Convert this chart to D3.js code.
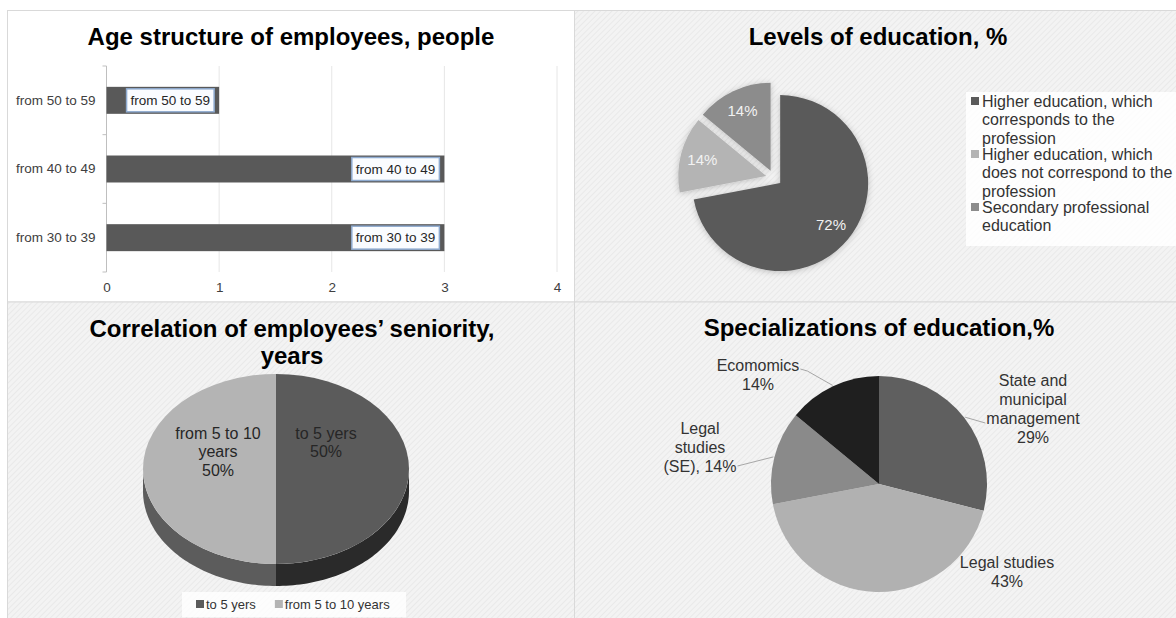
<!DOCTYPE html>
<html>
<head>
<meta charset="utf-8">
<script src="https://cdn.jsdelivr.net/npm/d3@7"></script>
<style>
body { margin: 0; background: #fff; }
text { font-family: "Liberation Sans", Arial, sans-serif; }
</style>
</head>
<body>
<script>
// Age structure (bar chart)
var ageCategories = ["from 50 to 59", "from 40 to 49", "from 30 to 39"];
var ageValues = [1, 3, 3];
var ageTicks = [0, 1, 2, 3, 4];

// Levels of education (exploded pie)
var eduCategories = ["Higher education, which corresponds to the profession",
    "Higher education, which does not correspond to the profession",
    "Secondary professional education"];
var eduValues = [72, 14, 14];
var eduLegendLines = [["Higher education, which", "corresponds to the", "profession"],
    ["Higher education, which", "does not correspond to the", "profession"],
    ["Secondary professional", "education"]];

// Seniority (3d pie)
var seniorityCategories = ["to 5 yers", "from 5 to 10 years"];
var seniorityValues = [50, 50];
var seniorityLabelLines = [["to 5 yers"], ["from 5 to 10", "years"]];

// Specializations (pie with leaders)
var specCategories = ["State and municipal management", "Legal studies", "Legal studies (SE)", "Ecomomics"];
var specValues = [29, 43, 14, 14];
var specLabelLines = [["State and", "municipal", "management"], ["Legal studies"], ["Legal", "studies", "(SE),"], ["Ecomomics"]];

var width = 1176, height = 618;

var svg = d3.select("body")
    .append("svg")
        .attr("width", width)
        .attr("height", height);

var defs = svg.append("defs");
var pat = defs.append("pattern")
    .attr("id", "hatch")
    .attr("width", 4).attr("height", 4)
    .attr("patternUnits", "userSpaceOnUse")
    .attr("patternTransform", "rotate(45)");
pat.append("rect").attr("width", 4).attr("height", 4).attr("fill", "#f3f3f3");
pat.append("line").attr("x1", 0).attr("y1", 0).attr("x2", 0).attr("y2", 4)
    .attr("stroke", "#e6e6e6").attr("stroke-width", 1.5);

var shadow = defs.append("filter").attr("id", "shadow")
    .attr("x", "-20%").attr("y", "-20%").attr("width", "140%").attr("height", "140%");
shadow.append("feDropShadow").attr("dx", 0).attr("dy", 1).attr("stdDeviation", 3)
    .attr("flood-color", "#000").attr("flood-opacity", 0.22);

// panels
var panels = [
    {x: 7.5, y: 10.5, w: 567, h: 291.5, fill: "#ffffff"},
    {x: 574.5, y: 10.5, w: 602, h: 291.5, fill: "url(#hatch)"},
    {x: 7.5, y: 302, w: 567, h: 317, fill: "url(#hatch)"},
    {x: 574.5, y: 302, w: 602, h: 317, fill: "url(#hatch)"}
];
svg.selectAll("rect.panel")
    .data(panels)
    .join("rect")
        .attr("class", "panel")
        .attr("x", d => d.x).attr("y", d => d.y)
        .attr("width", d => d.w).attr("height", d => d.h)
        .attr("fill", d => d.fill)
        .attr("stroke", "#d9d9d9");

function addTitle(lines, cx, y) {
    lines.forEach(function(t, i) {
        svg.append("text")
            .attr("x", cx)
            .attr("y", y + i * 27)
            .attr("text-anchor", "middle")
            .style("font-size", "24px")
            .style("font-weight", "bold")
            .style("fill", "#000")
            .text(t);
    });
}

addTitle(["Age structure of employees, people"], 291, 45);
addTitle(["Levels of education, %"], 878, 45);
addTitle(["Correlation of employees\u2019 seniority,", "years"], 292, 337);
addTitle(["Specializations of education,%"], 879, 336);

// ---------- bar chart ----------
var x = d3.scaleLinear().domain([0, 4]).range([106.5, 557]);
var y = d3.scaleBand().domain(ageCategories).range([66, 272])
    .paddingInner(0.607).paddingOuter(0.3035);

svg.append("g")
    .selectAll("line")
    .data(ageTicks.slice(1))
    .join("line")
        .attr("x1", d => x(d)).attr("x2", d => x(d))
        .attr("y1", 66).attr("y2", 272)
        .attr("stroke", "#e6e6e6");

var bounds = [0, 1, 2, 3].map(i => 66 + i * (206 / 3));
svg.append("line")
    .attr("x1", x(0)).attr("x2", x(0)).attr("y1", 66).attr("y2", 272)
    .attr("stroke", "#bfbfbf");
svg.append("g")
    .selectAll("line")
    .data(bounds)
    .join("line")
        .attr("x1", x(0) - 4).attr("x2", x(0))
        .attr("y1", d => d).attr("y2", d => d)
        .attr("stroke", "#bfbfbf");

var yAxis = svg.append("g")
    .attr("transform", "translate(" + x(0) + ",0)")
    .call(d3.axisLeft(y).tickSize(0).tickPadding(11));
yAxis.select(".domain").remove();
yAxis.selectAll("text").style("font-size", "13.5px").style("fill", "#404040")
    .style("font-family", "'Liberation Sans', Arial, sans-serif");

var xAxis = svg.append("g")
    .attr("transform", "translate(0,272)")
    .call(d3.axisBottom(x).tickValues(ageTicks).tickSize(0).tickPadding(10.5).tickFormat(d3.format("d")));
xAxis.select(".domain").remove();
xAxis.selectAll("text").style("font-size", "13.5px").style("fill", "#404040")
    .style("font-family", "'Liberation Sans', Arial, sans-serif");

var bars = svg.append("g")
    .selectAll("g")
    .data(ageCategories.map((c, i) => ({cat: c, val: ageValues[i]})))
    .join("g");

bars.append("rect")
    .attr("x", x(0))
    .attr("y", d => y(d.cat))
    .attr("width", d => x(d.val) - x(0))
    .attr("height", y.bandwidth())
    .attr("fill", "#595959");

bars.each(function(d) {
    var g = d3.select(this);
    var box = g.append("rect");
    var t = g.append("text")
        .attr("y", y(d.cat) + y.bandwidth() / 2)
        .attr("dy", "0.35em")
        .attr("text-anchor", "end")
        .style("font-size", "13.5px")
        .style("fill", "#262626")
        .text(d.cat);
    var w = t.node().getComputedTextLength();
    var right = x(d.val) - 5;
    t.attr("x", right - 4);
    box.attr("x", right - w - 8)
        .attr("y", y(d.cat) + 2)
        .attr("width", w + 8)
        .attr("height", y.bandwidth() - 4)
        .attr("fill", "#fafcff")
        .attr("stroke", "#8fabd0")
        .attr("stroke-width", 1.5);
});

// ---------- levels of education ----------
var eduPie = d3.pie().sort(null).value(d => d)(eduValues);
var eduColors = ["#5a5a5a", "#b4b4b4", "#8c8c8c"];
var eduR = 88, eduExplode = 8;
var eduArc = d3.arc().innerRadius(0).outerRadius(eduR);
var eduG = svg.append("g")
    .attr("transform", "translate(774,178)")
    .attr("filter", "url(#shadow)");

function midOf(d) { return (d.startAngle + d.endAngle) / 2; }

eduG.selectAll("path")
    .data(eduPie)
    .join("path")
        .attr("d", eduArc)
        .attr("fill", (d, i) => eduColors[i])
        .attr("transform", function(d) {
            var a = midOf(d);
            return "translate(" + (eduExplode * Math.sin(a)) + "," + (-eduExplode * Math.cos(a)) + ")";
        });

svg.append("g")
    .attr("transform", "translate(774,178)")
    .selectAll("text")
    .data(eduPie)
    .join("text")
        .attr("x", d => 74 * Math.sin(midOf(d)))
        .attr("y", d => -74 * Math.cos(midOf(d)))
        .attr("dy", "0.35em")
        .attr("text-anchor", "middle")
        .style("font-size", "15px")
        .style("fill", "#f2f2f2")
        .text(d => d.value + "%");

svg.append("rect")
    .attr("x", 966).attr("y", 92).attr("width", 210).attr("height", 154)
    .attr("fill", "#ffffff").attr("opacity", 0.85);

eduLegendLines.forEach(function(lines, i) {
    var top = 101 + i * 53;
    svg.append("rect")
        .attr("x", 971).attr("y", top - 4)
        .attr("width", 8).attr("height", 8)
        .attr("fill", eduColors[i]);
    lines.forEach(function(t, j) {
        svg.append("text")
            .attr("x", 982)
            .attr("y", top + j * 18.8)
            .attr("dy", "0.35em")
            .style("font-size", "16px")
            .style("fill", "#333")
            .text(t);
    });
});

// ---------- seniority 3d pie ----------
var sen = {cx: 276, cy: 469, rx: 133, ry: 95, depth: 22};
var senPie = d3.pie().sort(null).value(d => d)(seniorityValues);
var senTop = ["#5b5b5b", "#b4b4b4"];
var senSide = ["#2a2a2a", "#5c5c5c"];

function ellPt(a, dy) {
    return [sen.cx + sen.rx * Math.sin(a), sen.cy - sen.ry * Math.cos(a) + dy];
}

senPie.forEach(function(d, i) {
    var s = Math.max(d.startAngle, Math.PI / 2);
    var e = Math.min(d.endAngle, 3 * Math.PI / 2);
    if (e <= s) return;
    var pts = [];
    var n = 60;
    for (var k = 0; k <= n; k++) pts.push(ellPt(s + (e - s) * k / n, 0));
    for (var k = n; k >= 0; k--) pts.push(ellPt(s + (e - s) * k / n, sen.depth));
    svg.append("path")
        .attr("d", d3.line()(pts) + "Z")
        .attr("fill", senSide[i]);
});

svg.append("g")
    .attr("transform", "translate(" + sen.cx + "," + sen.cy + ") scale(1," + (sen.ry / sen.rx) + ")")
    .selectAll("path")
    .data(senPie)
    .join("path")
        .attr("d", d3.arc().innerRadius(0).outerRadius(sen.rx))
        .attr("fill", (d, i) => senTop[i]);

var senLabelPos = [[50, -36], [-58, -36]];
senPie.forEach(function(d, i) {
    var lines = seniorityLabelLines[i].concat([d.value + "%"]);
    lines.forEach(function(t, j) {
        svg.append("text")
            .attr("x", sen.cx + senLabelPos[i][0])
            .attr("y", sen.cy + senLabelPos[i][1] + j * 18.8)
            .attr("dy", "0.35em")
            .attr("text-anchor", "middle")
            .style("font-size", "16px")
            .style("fill", "#262626")
            .text(t);
    });
});

svg.append("rect")
    .attr("x", 182).attr("y", 592).attr("width", 224).attr("height", 25)
    .attr("fill", "#ffffff").attr("opacity", 0.8);
var lx = 196;
seniorityCategories.forEach(function(c, i) {
    svg.append("rect")
        .attr("x", lx).attr("y", 600).attr("width", 8).attr("height", 8)
        .attr("fill", senTop[i]);
    var t = svg.append("text")
        .attr("x", lx + 10).attr("y", 604).attr("dy", "0.35em")
        .style("font-size", "13px").style("fill", "#333")
        .text(c);
    lx += 10 + t.node().getComputedTextLength() + 19;
});

// ---------- specializations ----------
var spec = {cx: 879, cy: 484, r: 108};
var specPie = d3.pie().sort(null).value(d => d)(specValues);
var specColors = ["#5f5f5f", "#b1b1b1", "#8a8a8a", "#1f1f1f"];

svg.append("g")
    .attr("transform", "translate(" + spec.cx + "," + spec.cy + ")")
    .selectAll("path")
    .data(specPie)
    .join("path")
        .attr("d", d3.arc().innerRadius(0).outerRadius(spec.r))
        .attr("fill", (d, i) => specColors[i]);

var specLabelPos = [[154, -104], [128, 78], [-179, -56], [-121, -119]];
var specLeader = [{line: 2, side: "left"}, null, {line: 2, side: "right"}, {line: 0, side: "right", elbow: true}];

specPie.forEach(function(d, i) {
    var lines = specLabelLines[i].slice();
    var pct = d.value + "%";
    if (lines[lines.length - 1].slice(-1) === ",") lines[lines.length - 1] += " " + pct;
    else lines.push(pct);
    var lx = spec.cx + specLabelPos[i][0];
    var nodes = lines.map(function(t, j) {
        return svg.append("text")
            .attr("x", lx)
            .attr("y", spec.cy + specLabelPos[i][1] + j * 19)
            .attr("dy", "0.35em")
            .attr("text-anchor", "middle")
            .style("font-size", "16px")
            .style("fill", "#333")
            .text(t);
    });
    var ld = specLeader[i];
    if (!ld) return;
    var w = nodes[ld.line].node().getComputedTextLength();
    var ly = spec.cy + specLabelPos[i][1] + ld.line * 19;
    var a = midOf(d);
    var end = [spec.cx + (spec.r + 1) * Math.sin(a), spec.cy - (spec.r + 1) * Math.cos(a)];
    var pts;
    if (ld.side === "right") {
        var st = [lx + w / 2 + 1, ly + (ld.elbow ? 4 : 0)];
        pts = ld.elbow ? [st, [st[0] + 7, st[1] + 2], end] : [st, end];
    } else {
        pts = [[lx - w / 2 - 1, ly + 5], end];
    }
    svg.append("path")
        .attr("d", d3.line()(pts))
        .attr("fill", "none")
        .attr("stroke", "#a6a6a6")
        .attr("stroke-width", 1);
});
</script>
</body>
</html>
